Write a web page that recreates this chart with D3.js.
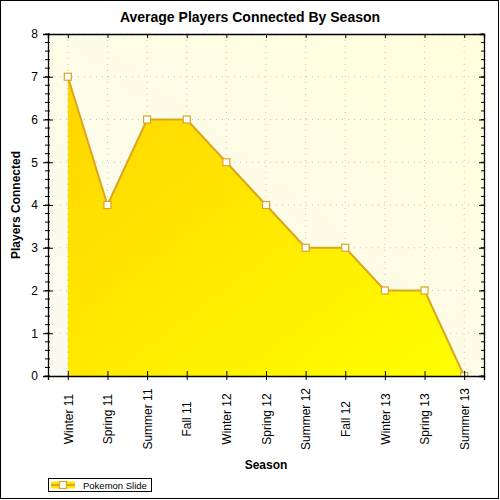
<!DOCTYPE html>
<html>
<head>
<meta charset="utf-8">
<script src="https://cdn.jsdelivr.net/npm/d3@7"></script>
<style>
  body { margin: 0; background: #fff; }
  text { font-family: "Liberation Sans", Arial, sans-serif; }
</style>
</head>
<body>
<script>
// chart data
var seasons = ["Winter 11", "Spring 11", "Summer 11", "Fall 11", "Winter 12", "Spring 12",
               "Summer 12", "Fall 12", "Winter 13", "Spring 13", "Summer 13"];
var players = [7, 4, 6, 6, 5, 4, 3, 3, 2, 2, 0];
var yTicks = [0, 1, 2, 3, 4, 5, 6, 7, 8];
var seriesName = "Pokemon Slide";

var W = 500, H = 500;
var margin = {top: 34, right: 16, bottom: 124, left: 48},
    width = W - margin.left - margin.right,
    height = H - margin.top - margin.bottom;

var svg = d3.select("body").append("svg")
    .attr("width", W)
    .attr("height", H);

var defs = svg.append("defs");
var bgGrad = defs.append("linearGradient").attr("id", "bgGrad")
    .attr("x1", "0%").attr("y1", "100%").attr("x2", "100%").attr("y2", "0%");
bgGrad.append("stop").attr("offset", "0%").attr("stop-color", "#fafaf2");
bgGrad.append("stop").attr("offset", "100%").attr("stop-color", "#ffffdc");

var areaGrad = defs.append("linearGradient").attr("id", "areaGrad")
    .attr("x1", "0%").attr("y1", "0%").attr("x2", "100%").attr("y2", "100%");
areaGrad.append("stop").attr("offset", "0%").attr("stop-color", "#ffd400");
areaGrad.append("stop").attr("offset", "100%").attr("stop-color", "#ffff00");

defs.append("clipPath").attr("id", "plotClip")
  .append("rect").attr("width", width).attr("height", height);

// outer border
svg.append("rect")
    .attr("x", 0.5).attr("y", 0.5)
    .attr("width", W - 2).attr("height", H - 2)
    .attr("fill", "#fff").attr("stroke", "#000");

// title
svg.append("text")
    .attr("x", 250).attr("y", 22)
    .attr("text-anchor", "middle")
    .attr("font-size", "14px").attr("font-weight", "bold")
    .text("Average Players Connected By Season");

var g = svg.append("g")
    .attr("transform", "translate(" + margin.left + "," + margin.top + ")");

var x = d3.scalePoint().domain(seasons).range([0, width]).padding(0.5);
var y = d3.scaleLinear().domain([0, 8]).range([height, 0]);

// plot background
g.append("rect")
    .attr("width", width).attr("height", height)
    .attr("fill", "url(#bgGrad)");

// dotted grid
g.selectAll(".vgrid").data(seasons).enter().append("line")
    .attr("x1", function(d) { return x(d); }).attr("x2", function(d) { return x(d); })
    .attr("y1", 0).attr("y2", height)
    .attr("stroke", "#c8c8c8").attr("stroke-dasharray", "1,5");
g.selectAll(".hgrid").data(yTicks).enter().append("line")
    .attr("x1", 0).attr("x2", width)
    .attr("y1", function(d) { return y(d); }).attr("y2", function(d) { return y(d); })
    .attr("stroke", "#c8c8c8").attr("stroke-dasharray", "1,5");

var data = seasons.map(function(s, i) { return {season: s, value: players[i]}; });

var plot = g.append("g").attr("clip-path", "url(#plotClip)");

plot.append("path")
    .datum(data)
    .attr("fill", "url(#areaGrad)")
    .attr("d", d3.area()
        .x(function(d) { return x(d.season); })
        .y0(y(0))
        .y1(function(d) { return y(d.value); }));

plot.append("path")
    .datum(data)
    .attr("fill", "none")
    .attr("stroke", "#daa520")
    .attr("stroke-width", 2)
    .attr("d", d3.line()
        .x(function(d) { return x(d.season); })
        .y(function(d) { return y(d.value); }));

plot.selectAll(".marker").data(data).enter().append("rect")
    .attr("x", function(d) { return x(d.season) - 3.5; })
    .attr("y", function(d) { return y(d.value) - 3.5; })
    .attr("width", 7).attr("height", 7)
    .attr("fill", "#fff")
    .attr("stroke", "#daa520")
    .attr("stroke-width", 1.2);

// minor ticks every 0.2
var minor = d3.range(0, 41).map(function(i) { return i / 5; });

// left axis
var left = g.append("g");
left.selectAll(".mt").data(minor).enter().append("line")
    .attr("x1", -3).attr("x2", 2)
    .attr("y1", function(d) { return y(d); }).attr("y2", function(d) { return y(d); })
    .attr("stroke", "#000");
left.call(d3.axisLeft(y).tickValues(yTicks).tickSize(5).tickPadding(5).tickFormat(d3.format("d")));
left.selectAll(".tick line").attr("x1", 5).attr("x2", -5);
left.selectAll(".tick text").attr("font-size", "12px").attr("font-family", "Liberation Sans, Arial, sans-serif");

// right axis (inner ticks)
var right = g.append("g").attr("transform", "translate(" + width + ",0)");
right.selectAll(".mt").data(minor).enter().append("line")
    .attr("x1", -3).attr("x2", 0)
    .attr("y1", function(d) { return y(d); }).attr("y2", function(d) { return y(d); })
    .attr("stroke", "#000");
right.call(d3.axisRight(y).tickValues(yTicks).tickSize(-5).tickFormat(""));

// top axis (inner ticks)
g.append("g").call(d3.axisTop(x).tickSize(-4).tickFormat(""));

// bottom axis
var bottom = g.append("g").attr("transform", "translate(0," + height + ")");
bottom.call(d3.axisBottom(x).tickSize(4).tickPadding(0));
bottom.selectAll(".tick line").attr("y1", -5).attr("y2", 4);
bottom.selectAll(".tick text")
    .attr("font-size", "12px")
    .attr("font-family", "Liberation Sans, Arial, sans-serif")
    .attr("text-anchor", "middle")
    .attr("dy", "0.35em")
    .attr("transform", "translate(0,43) rotate(-90)")
    .attr("y", 0);

g.selectAll(".domain").attr("stroke", "#000").attr("stroke-width", 1.3);

// axis labels
svg.append("text")
    .attr("x", margin.left + width / 2).attr("y", 469)
    .attr("text-anchor", "middle")
    .attr("font-size", "12px").attr("font-weight", "bold")
    .text("Season");

svg.append("text")
    .attr("transform", "translate(20," + (margin.top + height / 2) + ") rotate(-90)")
    .attr("text-anchor", "middle")
    .attr("font-size", "12px").attr("font-weight", "bold")
    .text("Players Connected");

// legend
var legend = svg.append("g").attr("transform", "translate(48,478)");
legend.append("rect")
    .attr("x", 0.5).attr("y", 0.5).attr("width", 103).attr("height", 13)
    .attr("fill", "#fff").attr("stroke", "#000");
legend.append("rect")
    .attr("x", 3).attr("y", 3.5).attr("width", 24).attr("height", 7)
    .attr("fill", "#ffe600");
legend.append("line")
    .attr("x1", 3).attr("x2", 27).attr("y1", 7).attr("y2", 7)
    .attr("stroke", "#daa520").attr("stroke-width", 2);
legend.append("rect")
    .attr("x", 11.5).attr("y", 3.5).attr("width", 7).attr("height", 7)
    .attr("fill", "#fff").attr("stroke", "#daa520").attr("stroke-width", 1.2);
legend.append("text")
    .attr("x", 35).attr("y", 10.5)
    .attr("font-size", "9.5px")
    .text(seriesName);
</script>
</body>
</html>
